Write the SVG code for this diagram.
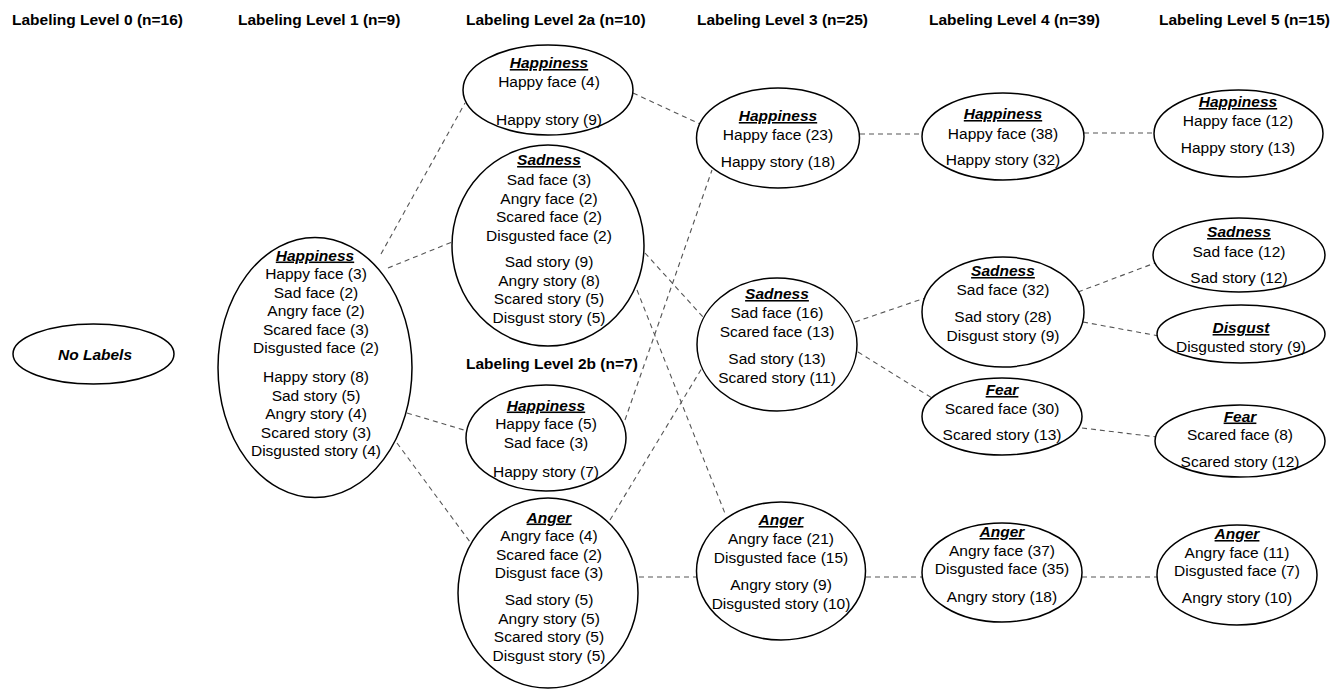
<svg xmlns="http://www.w3.org/2000/svg" width="1339" height="690" viewBox="0 0 1339 690">
<style>
text{font-family:"Liberation Sans",Arial,sans-serif;font-size:15.5px;fill:#000;text-anchor:middle}
.h{font-weight:bold;text-anchor:start}
.t{font-weight:bold;font-style:italic;text-decoration:underline}
.n{font-weight:bold;font-style:italic}
ellipse{fill:#fff;stroke:#000;stroke-width:1.5}
.c line{stroke:#555;stroke-width:1.1;stroke-dasharray:5 4;fill:none}
</style>
<rect width="1339" height="690" fill="#fff"/>
<g id="headers">
<text class="h" x="12" y="25">Labeling Level 0 (n=16)</text>
<text class="h" x="238" y="25">Labeling Level 1 (n=9)</text>
<text class="h" x="466" y="25">Labeling Level 2a (n=10)</text>
<text class="h" x="697" y="25">Labeling Level 3 (n=25)</text>
<text class="h" x="929" y="25">Labeling Level 4 (n=39)</text>
<text class="h" x="1159" y="25">Labeling Level 5 (n=15)</text>
<text class="h" x="466" y="369">Labeling Level 2b (n=7)</text>
</g>
<g class="c" id="connectors">
<line x1="381" y1="254" x2="465" y2="103"/>
<line x1="388" y1="268" x2="452" y2="242"/>
<line x1="407" y1="413" x2="464" y2="430"/>
<line x1="397" y1="443" x2="470" y2="542"/>
<line x1="633" y1="93" x2="700" y2="124"/>
<line x1="645" y1="253" x2="703" y2="317"/>
<line x1="637" y1="290" x2="726" y2="516"/>
<line x1="625" y1="420" x2="712" y2="170"/>
<line x1="610" y1="520" x2="702" y2="368"/>
<line x1="639" y1="577" x2="697" y2="577"/>
<line x1="860" y1="134" x2="922" y2="134"/>
<line x1="1084" y1="133" x2="1154" y2="133"/>
<line x1="855" y1="322" x2="925" y2="298"/>
<line x1="858" y1="352" x2="932" y2="398"/>
<line x1="1078" y1="292" x2="1155" y2="263"/>
<line x1="1083" y1="322" x2="1159" y2="336"/>
<line x1="1082" y1="428" x2="1157" y2="437"/>
<line x1="866" y1="577" x2="922" y2="577"/>
<line x1="1082" y1="577" x2="1157" y2="577"/>
</g>
<g id="n0">
<ellipse cx="93.5" cy="354" rx="80.5" ry="30"/>
<text class="n" x="95" y="360">No Labels</text>
</g>
<g id="l1-happiness">
<ellipse cx="315" cy="367.5" rx="97" ry="130"/>
<text class="t" x="315" y="260.5">Happiness</text>
<text x="316" y="279">Happy face (3)</text>
<text x="316" y="297.5">Sad face (2)</text>
<text x="316" y="316">Angry face (2)</text>
<text x="316" y="334.5">Scared face (3)</text>
<text x="316" y="353">Disgusted face (2)</text>
<text x="316" y="382">Happy story (8)</text>
<text x="316" y="400.5">Sad story (5)</text>
<text x="316" y="419">Angry story (4)</text>
<text x="316" y="437.5">Scared story (3)</text>
<text x="316" y="456">Disgusted story (4)</text>
</g>
<g id="l2a-happiness">
<ellipse cx="548" cy="90" rx="85" ry="45"/>
<text class="t" x="549" y="68">Happiness</text>
<text x="549" y="86.5">Happy face (4)</text>
<text x="549" y="125">Happy story (9)</text>
</g>
<g id="l2a-sadness">
<ellipse cx="548" cy="245.5" rx="96" ry="100.5"/>
<text class="t" x="549" y="165">Sadness</text>
<text x="549" y="185">Sad face (3)</text>
<text x="549" y="203.5">Angry face (2)</text>
<text x="549" y="222">Scared face (2)</text>
<text x="549" y="240.5">Disgusted face (2)</text>
<text x="549" y="267">Sad story (9)</text>
<text x="549" y="285.5">Angry story (8)</text>
<text x="549" y="304">Scared story (5)</text>
<text x="549" y="322.5">Disgust story (5)</text>
</g>
<g id="l2b-happiness">
<ellipse cx="546" cy="438" rx="80" ry="53"/>
<text class="t" x="546" y="410.5">Happiness</text>
<text x="546" y="429">Happy face (5)</text>
<text x="546" y="447.5">Sad face (3)</text>
<text x="546" y="476.5">Happy story (7)</text>
</g>
<g id="l2b-anger">
<ellipse cx="548" cy="593" rx="90" ry="95"/>
<text class="t" x="549" y="522.5">Anger</text>
<text x="549" y="541">Angry face (4)</text>
<text x="549" y="559.5">Scared face (2)</text>
<text x="549" y="578">Disgust face (3)</text>
<text x="549" y="605">Sad story (5)</text>
<text x="549" y="623.5">Angry story (5)</text>
<text x="549" y="642">Scared story (5)</text>
<text x="549" y="660.5">Disgust story (5)</text>
</g>
<g id="l3-happiness">
<ellipse cx="778" cy="138" rx="81.5" ry="50"/>
<text class="t" x="778" y="121">Happiness</text>
<text x="778" y="140">Happy face (23)</text>
<text x="778" y="167">Happy story (18)</text>
</g>
<g id="l3-sadness">
<ellipse cx="777" cy="344.5" rx="80" ry="66.5"/>
<text class="t" x="777" y="299">Sadness</text>
<text x="777" y="318">Sad face (16)</text>
<text x="777" y="336.5">Scared face (13)</text>
<text x="777" y="364">Sad story (13)</text>
<text x="777" y="382.5">Scared story (11)</text>
</g>
<g id="l3-anger">
<ellipse cx="781" cy="571" rx="84.5" ry="69"/>
<text class="t" x="781" y="525">Anger</text>
<text x="781" y="544">Angry face (21)</text>
<text x="781" y="562.5">Disgusted face (15)</text>
<text x="781" y="590">Angry story (9)</text>
<text x="781" y="608.5">Disgusted story (10)</text>
</g>
<g id="l4-happiness">
<ellipse cx="1003" cy="136.5" rx="81" ry="43.5"/>
<text class="t" x="1003" y="119">Happiness</text>
<text x="1003" y="139">Happy face (38)</text>
<text x="1003" y="165">Happy story (32)</text>
</g>
<g id="l4-sadness">
<ellipse cx="1003" cy="312" rx="81" ry="55"/>
<text class="t" x="1003" y="276">Sadness</text>
<text x="1003" y="295">Sad face (32)</text>
<text x="1003" y="322">Sad story (28)</text>
<text x="1003" y="340.5">Disgust story (9)</text>
</g>
<g id="l4-fear">
<ellipse cx="1002" cy="416.5" rx="80" ry="38.5"/>
<text class="t" x="1002" y="395">Fear</text>
<text x="1002" y="413.5">Scared face (30)</text>
<text x="1002" y="440">Scared story (13)</text>
</g>
<g id="l4-anger">
<ellipse cx="1002" cy="572.5" rx="80" ry="49.5"/>
<text class="t" x="1002" y="537">Anger</text>
<text x="1002" y="555.5">Angry face (37)</text>
<text x="1002" y="574">Disgusted face (35)</text>
<text x="1002" y="602">Angry story (18)</text>
</g>
<g id="l5-happiness">
<ellipse cx="1238.5" cy="133.5" rx="84.5" ry="43.5"/>
<text class="t" x="1238" y="107">Happiness</text>
<text x="1238" y="126">Happy face (12)</text>
<text x="1238" y="153">Happy story (13)</text>
</g>
<g id="l5-sadness">
<ellipse cx="1239" cy="255" rx="86" ry="37"/>
<text class="t" x="1239" y="237">Sadness</text>
<text x="1239" y="257">Sad face (12)</text>
<text x="1239" y="283">Sad story (12)</text>
</g>
<g id="l5-disgust">
<ellipse cx="1241" cy="334" rx="84" ry="29"/>
<text class="t" x="1241" y="333">Disgust</text>
<text x="1241" y="352">Disgusted story (9)</text>
</g>
<g id="l5-fear">
<ellipse cx="1240" cy="441" rx="85" ry="36"/>
<text class="t" x="1240" y="421.5">Fear</text>
<text x="1240" y="440">Scared face (8)</text>
<text x="1240" y="467">Scared story (12)</text>
</g>
<g id="l5-anger">
<ellipse cx="1237" cy="575" rx="80" ry="50"/>
<text class="t" x="1237" y="539">Anger</text>
<text x="1237" y="557.5">Angry face (11)</text>
<text x="1237" y="576">Disgusted face (7)</text>
<text x="1237" y="603">Angry story (10)</text>
</g>
</svg>
